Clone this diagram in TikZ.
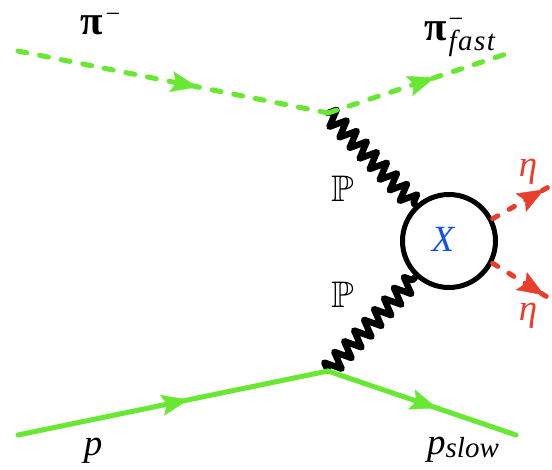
\documentclass[tikz,border=0pt]{standalone}
\usepackage{amssymb}
\usepackage{fontspec}
\setmainfont{Liberation Serif}
\usetikzlibrary{arrows.meta,decorations.pathmorphing,decorations.markings}
\definecolor{lgreen}{RGB}{104,232,50}
\definecolor{lred}{RGB}{234,62,44}
\definecolor{lblue}{RGB}{20,80,240}
\tikzset{
  x=1pt,y=-1pt,
  midtip/.style n args={2}{postaction={decorate},decoration={markings,mark=at position #1 with {\arrow[#2]{Stealth[length=27pt,width=21pt,inset=5pt]}}}},
  pion/.style={draw=lgreen,line width=5pt,dash pattern=on 9pt off 13pt,line cap=round},
  proton/.style={draw=lgreen,line width=5pt,line cap=round},
  eta/.style={draw=lred,line width=5pt,dash pattern=on 6pt off 13pt,line cap=round},
  pomeron/.style={draw=black,line width=6.4pt,line join=round,line cap=round,decorate,decoration={zigzag,segment length=14.6pt,amplitude=8.5pt}},
  blob/.style={circle,draw=black,line width=5pt,minimum size=93pt,inner sep=0pt},
  lab/.style={inner sep=0pt,font=\fontsize{37pt}{38pt}\selectfont},
}
\begin{document}
\begin{tikzpicture}
\useasboundingbox (0,0) rectangle (552,469);
\coordinate (piin) at (18,51);
\coordinate (top) at (328,113);
\coordinate (piout) at (506,54);
\coordinate (pin) at (18,435);
\coordinate (bot) at (328,371);
\coordinate (pout) at (516,435);
\coordinate (e1) at (552,185);
\coordinate (e2) at (552,300);
\node[blob] (x) at (449,241) {};
\draw[pomeron] (top) -- (x.133);
\draw[pomeron] (bot) -- (x.227);
\draw[pion] (piin) -- (top);
\draw[pion] (top) -- (piout);
\path[midtip={0.58}{lgreen}] (piin) -- (top);
\path[midtip={0.60}{lgreen}] (top) -- (piout);
\draw[proton] (pin) -- (bot);
\draw[proton] (bot) -- (pout);
\path[midtip={0.55}{lgreen}] (pin) -- (bot);
\path[midtip={0.58}{lgreen}] (bot) -- (pout);
\draw[eta] (x.27) -- (e1);
\draw[eta] (x.-27) -- (e2);
\path[midtip={0.87}{lred}] (x.27) -- (e1);
\path[midtip={0.87}{lred}] (x.-27) -- (e2);
\node[lab,anchor=west] (lpi) at (80,24) {\fontsize{41pt}{42pt}\selectfont\bfseries π\kern3pt\raisebox{12pt}{\fontsize{26pt}{26pt}\selectfont\mdseries −}};
\node[lab,anchor=west] (lpif) at (424,37) {\fontsize{41pt}{42pt}\selectfont\bfseries π\raisebox{13pt}{\kern2pt\rlap{\fontsize{26pt}{26pt}\selectfont\mdseries −}}\raisebox{-10pt}{\fontsize{29pt}{30pt}\selectfont\mdseries\itshape\addfontfeature{LetterSpace=5}fast}};
\node[lab] (lp) at (93,451) {\itshape p};
\node[lab,anchor=west] (lps) at (427,450) {\itshape p\raisebox{-3pt}{\fontsize{29pt}{30pt}\selectfont\itshape slow}};
\node[lab] (p1) at (343,189) {$\mathbb{P}$};
\node[lab] (p2) at (343,295) {$\mathbb{P}$};
\node[lab,text=lblue] (lx) at (443,239) {\itshape X};
\node[lab,text=lred] (l1) at (528,172) {\itshape η};
\node[lab,text=lred] (l2) at (528,316) {\itshape η};
\end{tikzpicture}
\end{document}
